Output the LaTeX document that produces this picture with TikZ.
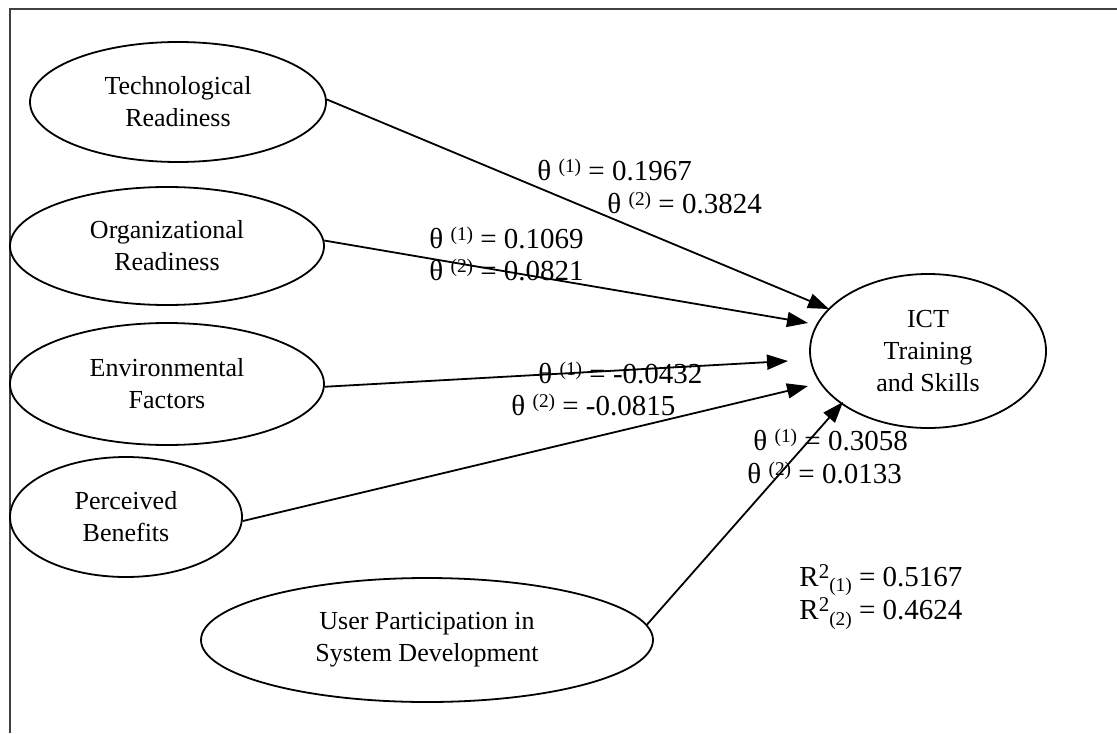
\documentclass[tikz,border=0pt]{standalone}
\usepackage{fontspec}
\setmainfont{Liberation Serif}
\usetikzlibrary{shapes.geometric,arrows.meta}
% path coefficient: theta with a raised model index
\newcommand\thlab[2]{θ \raisebox{0.6ex}{\fontsize{9.7pt}{11pt}\selectfont(#1)} = #2}
% explained variance: R squared with a lowered model index
\newcommand\rlab[2]{R\raisebox{0.6ex}{\fontsize{10.5pt}{11pt}\selectfont 2}\raisebox{-0.45ex}{\fontsize{9.7pt}{11pt}\selectfont(#1)} = #2}
\begin{document}
\begin{tikzpicture}[x=0.5pt,y=-0.5pt,
  latent/.style={draw,ellipse,line width=0.9pt,inner sep=0pt,align=center,
    font=\fontsize{13pt}{16pt}\selectfont},
  pathline/.style={-{Triangle[length=10.5pt,width=7.5pt]},line width=0.9pt},
  coef/.style={anchor=base west,inner sep=0pt,font=\fontsize{14.5pt}{17pt}\selectfont}]
\useasboundingbox (0,0) rectangle (1117,733);
% open frame: top and left edges only
\draw[black!75,line width=1pt] (10,733) -- (10,9) -- (1117,9);

% constructs
\node[latent,minimum width=148pt,minimum height=60pt] (tr) at (178,102) {Technological\\Readiness};
\node[latent,minimum width=157pt,minimum height=59pt] (or) at (167,246) {Organizational\\Readiness};
\node[latent,minimum width=157pt,minimum height=61pt] (ef) at (167,384) {Environmental\\Factors};
\node[latent,minimum width=116pt,minimum height=60pt] (pb) at (126,517) {Perceived\\Benefits};
\node[latent,minimum width=226pt,minimum height=62pt] (up) at (427,640) {User Participation in\\System Development};
\node[latent,minimum width=118pt,minimum height=77pt] (ict) at (928,351) {ICT\\Training\\and Skills};

% path coefficients
\node[coef] (c1a) at (537,180) {\thlab{1}{0.1967}};
\node[coef] (c1b) at (607,213) {\thlab{2}{0.3824}};
\node[coef] (c2a) at (429,248) {\thlab{1}{0.1069}};
\node[coef] (c2b) at (429,280) {\thlab{2}{0.0821}};
\node[coef] (c3a) at (538,383) {\thlab{1}{-0.0432}};
\node[coef] (c3b) at (511,415) {\thlab{2}{-0.0815}};
\node[coef] (c5a) at (753,450) {\thlab{1}{0.3058}};
\node[coef] (c5b) at (747,483) {\thlab{2}{0.0133}};

% explained variance
\node[coef] (r1) at (799,586) {\rlab{1}{0.5167}};
\node[coef] (r2) at (799,619) {\rlab{2}{0.4624}};

% structural paths
\draw[pathline] (tr.1)   -- ([shift={(-99,-42)}]ict.center);
\draw[pathline] (or.2)   -- ([shift={(-120,-28)}]ict.center);
\draw[pathline] (ef.-1)  -- ([shift={(-140,10)}]ict.center);
\draw[pathline] (pb.-2.5) -- ([shift={(-120,35)}]ict.center);
\draw[pathline] (up.4)   -- ([shift={(-85,51)}]ict.center);
\end{tikzpicture}
\end{document}
